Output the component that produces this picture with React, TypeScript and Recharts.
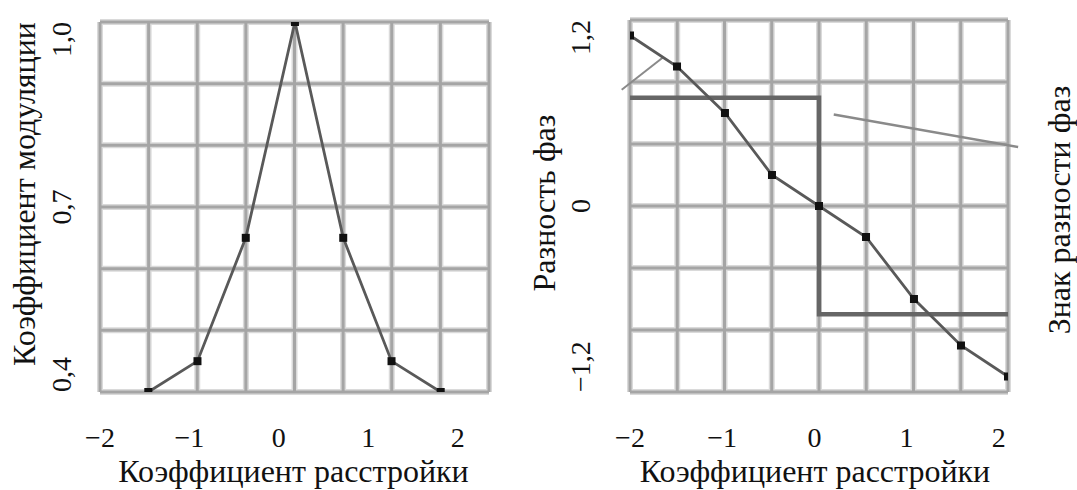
import { CartesianGrid, Line, LineChart, ReferenceLine, XAxis, YAxis } from 'recharts'

const FONT = 'Liberation Serif, Times New Roman, serif'

// левый график: коэффициент модуляции от коэффициента расстройки
const detuneLeft = [-1.46, -0.91, -0.37, 0.18, 0.72, 1.26, 1.81]
const modulation = [0.4, 0.45, 0.65, 1.0, 0.65, 0.45, 0.4]
const leftYTicks = [0.4, 0.7, 1.0]

// правый график: разность фаз и её знак
const detuneRight = [-2, -1.49, -0.97, -0.46, 0.05, 0.56, 1.08, 1.59, 2.1]
const phaseDiff = [1.1, 0.9, 0.6, 0.2, 0, -0.2, -0.6, -0.9, -1.1]
const signX = [-2, 0.05, 2.1]
const signVal = [1, -1, -1]
const rightYTicks = [-1.2, 0, 1.2]

const xTicks = [-2, -1, 0, 1, 2]
const GRID_COLS = 8
const GRID_ROWS = 6

// выноски
const leaderLeft = [
  { x: -2.09, y: 0.75 },
  { x: -1.64, y: 0.96 },
]
const leaderRight = [
  { x: 0.21, y: 0.59 },
  { x: 2.21, y: 0.38 },
]

const modData = detuneLeft.map((x, i) => ({ x, m: modulation[i] }))
const phaseData = detuneRight.map((x, i) => ({ x, p: phaseDiff[i] }))
const signData = signX.map((x, i) => ({ x, s: signVal[i] }))

const fmt = (v: number) => (v === 0 ? '0' : v.toFixed(1).replace('.', ',').replace('-', '\u2212'))

function makeYTick(min: number, max: number, dx: number) {
  return (props: any) => {
    const { x, y, payload } = props
    const v = payload.value
    const anchor = v === min ? 'start' : v === max ? 'end' : 'middle'
    const tx = x + dx
    return (
      <text
        x={tx}
        y={y}
        transform={`rotate(-90 ${tx} ${y})`}
        textAnchor={anchor}
        fontSize={28}
        fontFamily={FONT}
        fill="#111"
      >
        {fmt(v)}
      </text>
    )
  }
}

function XTick(props: any) {
  const { x, y, payload } = props
  return (
    <text x={x} y={y + 55} textAnchor="middle" fontSize={28} fontFamily={FONT} fill="#111">
      {String(payload.value).replace('-', '\u2212')}
    </text>
  )
}

function AxisTitle(props: any) {
  const { viewBox, caption, ox = 0, oy = 0, vertical } = props
  if (!viewBox) return null
  if (vertical) {
    const tx = viewBox.x + ox
    const ty = viewBox.y + viewBox.height / 2 + oy
    return (
      <text
        x={tx}
        y={ty}
        transform={`rotate(-90 ${tx} ${ty})`}
        textAnchor="middle"
        fontSize={32}
        fontFamily={FONT}
        fill="#111"
      >
        {caption}
      </text>
    )
  }
  return (
    <text
      x={viewBox.x + viewBox.width / 2 + ox}
      y={viewBox.y + oy}
      textAnchor="middle"
      fontSize={32}
      fontFamily={FONT}
      fill="#111"
    >
      {caption}
    </text>
  )
}

const squareDot = (props: any) => (
  <rect key={`d${props.index}`} x={props.cx - 4} y={props.cy - 4} width={8} height={8} fill="#111" />
)

const vLines = ({ offset }: any) =>
  Array.from({ length: GRID_COLS + 1 }, (_, i) => offset.left + (offset.width * i) / GRID_COLS)
const hLines = ({ offset }: any) =>
  Array.from({ length: GRID_ROWS + 1 }, (_, i) => offset.top + (offset.height * i) / GRID_ROWS)

function Grid() {
  return (
    <>
      <CartesianGrid
        stroke="#dadada"
        strokeWidth={6}
        verticalCoordinatesGenerator={vLines}
        horizontalCoordinatesGenerator={hLines}
      />
      <CartesianGrid
        stroke="#a5a5a5"
        strokeWidth={3}
        verticalCoordinatesGenerator={vLines}
        horizontalCoordinatesGenerator={hLines}
      />
    </>
  )
}

export default function App() {
  return (
    <div
      style={{
        position: 'absolute',
        left: 0,
        top: 0,
        width: 1077,
        height: 490,
        background: '#fff',
        fontFamily: FONT,
      }}
    >
      <div style={{ position: 'absolute', left: 0, top: 0 }}>
        <LineChart width={520} height={490} margin={{ top: 22, right: 31, left: 0, bottom: 0 }} style={{ fontFamily: FONT }}>
          {Grid()}
          <XAxis
            dataKey="x"
            type="number"
            domain={[-2, 2.35]}
            allowDataOverflow
            ticks={xTicks}
            height={98}
            axisLine={false}
            tickLine={false}
            tickSize={0}
            tickMargin={0}
            tick={XTick}
            label={<AxisTitle caption="Коэффициент расстройки" ox={-1} oy={90} />}
          />
          <YAxis
            type="number"
            domain={[0.4, 1.0]}
            allowDataOverflow
            ticks={leftYTicks}
            width={100}
            axisLine={false}
            tickLine={false}
            tickSize={0}
            tickMargin={0}
            tick={makeYTick(0.4, 1.0, -29)}
            label={<AxisTitle caption="Коэффициент модуляции" vertical ox={35} oy={-13} />}
          />
          <Line
            data={modData}
            dataKey="m"
            type="linear"
            stroke="#595959"
            strokeWidth={2.8}
            dot={squareDot}
            isAnimationActive={false}
          />
        </LineChart>
      </div>
      <div style={{ position: 'absolute', left: 520, top: 0 }}>
        <LineChart width={557} height={490} margin={{ top: 20, right: 0, left: 0, bottom: 0 }} style={{ fontFamily: FONT }}>
          {Grid()}
          <XAxis
            dataKey="x"
            type="number"
            domain={[-2, 2.1]}
            allowDataOverflow
            ticks={xTicks}
            height={98}
            axisLine={false}
            tickLine={false}
            tickSize={0}
            tickMargin={0}
            tick={XTick}
            label={<AxisTitle caption="Коэффициент расстройки" ox={-4} oy={90} />}
          />
          <YAxis
            type="number"
            domain={[-1.2, 1.2]}
            allowDataOverflow
            ticks={rightYTicks}
            width={110}
            axisLine={false}
            tickLine={false}
            tickSize={0}
            tickMargin={0}
            tick={makeYTick(-1.2, 1.2, -40)}
            label={<AxisTitle caption="Разность фаз" vertical ox={35} oy={-3} />}
          />
          <YAxis
            yAxisId="sign"
            orientation="right"
            type="number"
            domain={[-1.72, 1.72]}
            allowDataOverflow
            width={69}
            axisLine={false}
            tickLine={false}
            tick={false}
            label={<AxisTitle caption="Знак разности фаз" vertical ox={62} oy={4} />}
          />
          <ReferenceLine segment={leaderLeft} stroke="#8a8a8a" strokeWidth={2} ifOverflow="visible" />
          <ReferenceLine segment={leaderRight} stroke="#8a8a8a" strokeWidth={2.5} ifOverflow="visible" />
          <Line
            data={signData}
            dataKey="s"
            yAxisId="sign"
            type="stepAfter"
            stroke="#666"
            strokeWidth={4.5}
            dot={false}
            isAnimationActive={false}
          />
          <Line
            data={phaseData}
            dataKey="p"
            type="linear"
            stroke="#595959"
            strokeWidth={2.8}
            dot={squareDot}
            isAnimationActive={false}
          />
        </LineChart>
      </div>
    </div>
  )
}
